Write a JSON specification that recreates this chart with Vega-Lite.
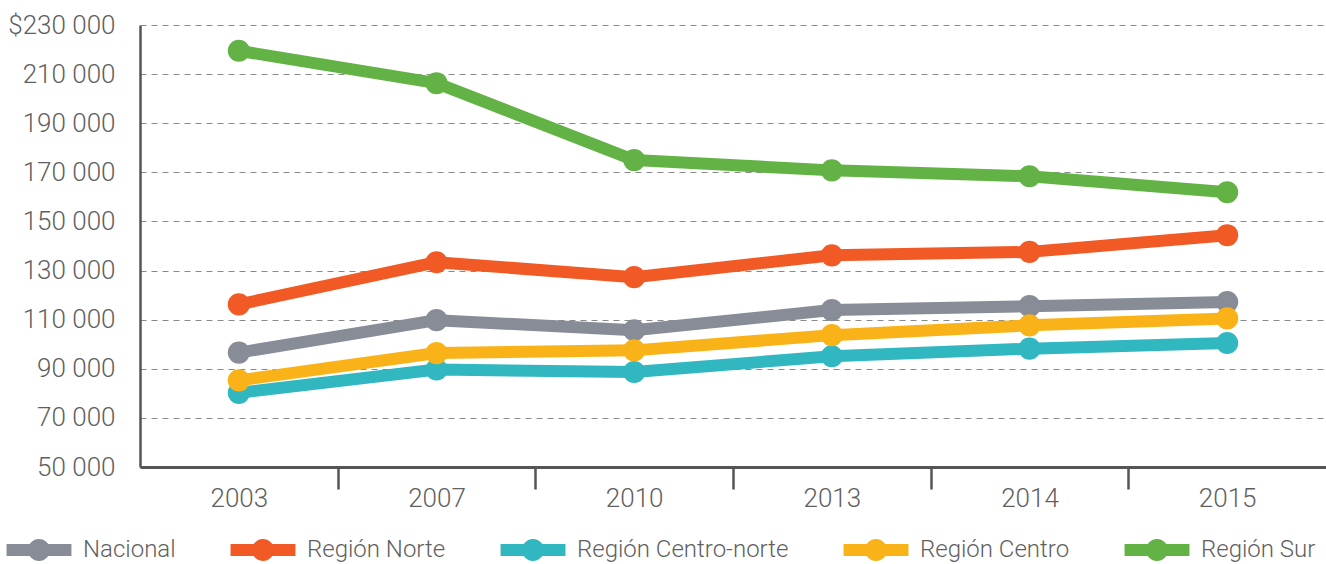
{
  "$schema": "https://vega.github.io/schema/vega-lite/v6.json",
  "autosize": {"type": "none"},
  "width": 1186,
  "height": 442,
  "padding": {"left": 140, "top": 25, "right": 0, "bottom": 97},
  "background": "white",
  "config": {
    "view": {"stroke": null},
    "font": "Roboto",
    "axis": {"labelFont": "Roboto", "labelFontWeight": 300, "labelColor": "#5f5f5f", "labelFontSize": 26},
    "legend": {"labelFont": "Roboto", "labelFontWeight": 300, "labelColor": "#5f5f5f", "labelFontSize": 24, "labelLimit": 0}
  },
  "data": {
    "values": [
      {"year": "2003", "region": "Región Sur", "value": 219500},
      {"year": "2007", "region": "Región Sur", "value": 206300},
      {"year": "2010", "region": "Región Sur", "value": 175000},
      {"year": "2013", "region": "Región Sur", "value": 170800},
      {"year": "2014", "region": "Región Sur", "value": 168400},
      {"year": "2015", "region": "Región Sur", "value": 161900},
      {"year": "2003", "region": "Región Norte", "value": 116200},
      {"year": "2007", "region": "Región Norte", "value": 133400},
      {"year": "2010", "region": "Región Norte", "value": 127300},
      {"year": "2013", "region": "Región Norte", "value": 136200},
      {"year": "2014", "region": "Región Norte", "value": 137600},
      {"year": "2015", "region": "Región Norte", "value": 144400},
      {"year": "2003", "region": "Nacional", "value": 96600},
      {"year": "2007", "region": "Nacional", "value": 109800},
      {"year": "2010", "region": "Nacional", "value": 105700},
      {"year": "2013", "region": "Nacional", "value": 113900},
      {"year": "2014", "region": "Nacional", "value": 115500},
      {"year": "2015", "region": "Nacional", "value": 117200},
      {"year": "2003", "region": "Región Centro-norte", "value": 80200},
      {"year": "2007", "region": "Región Centro-norte", "value": 89700},
      {"year": "2010", "region": "Región Centro-norte", "value": 88700},
      {"year": "2013", "region": "Región Centro-norte", "value": 95100},
      {"year": "2014", "region": "Región Centro-norte", "value": 98200},
      {"year": "2015", "region": "Región Centro-norte", "value": 100500},
      {"year": "2003", "region": "Región Centro", "value": 85300},
      {"year": "2007", "region": "Región Centro", "value": 96400},
      {"year": "2010", "region": "Región Centro", "value": 97500},
      {"year": "2013", "region": "Región Centro", "value": 103700},
      {"year": "2014", "region": "Región Centro", "value": 107700},
      {"year": "2015", "region": "Región Centro", "value": 110500}
    ]
  },
  "encoding": {
    "x": {
      "field": "year", "type": "ordinal",
      "scale": {"type": "band", "paddingInner": 0, "paddingOuter": 0},
      "axis": {
        "title": null, "labelAngle": 0, "tickBand": "extent", "tickSize": 22,
        "tickWidth": 2.5,
        "tickColor": {"condition": {"test": "datum.index > 0.8 || datum.extra", "value": "transparent"}, "value": "#555555"},
        "domainColor": "#555555", "domainWidth": 3,
        "labelPadding": -4, "grid": false
      }
    },
    "y": {
      "field": "value", "type": "quantitative",
      "scale": {"domain": [50000, 230000], "nice": false, "zero": false},
      "axis": {
        "title": null, "values": [50000, 70000, 90000, 110000, 130000, 150000, 170000, 190000, 210000, 230000],
        "labelExpr": "datum.value == 230000 ? '$230 000' : replace(format(datum.value, ','), ',', ' ')",
        "ticks": false, "labelPadding": 25, "domainColor": "#555555", "domainWidth": 2.5,
        "grid": true, "gridDash": [6, 5], "gridColor": "#8a8a8a", "gridWidth": 1.2
      }
    },
    "color": {
      "field": "region", "type": "nominal",
      "scale": {
        "domain": ["Nacional", "Región Norte", "Región Centro-norte", "Región Centro", "Región Sur"],
        "range": ["#878c96", "#f15a25", "#31b7bf", "#f9b218", "#63b246"]
      },
      "legend": {
        "title": null, "orient": "none", "direction": "horizontal",
        "legendX": -113, "legendY": 513, "padding": 0,
        "symbolType": "M-2.95,-0.55 L2.95,-0.55 L2.95,0.55 L-2.95,0.55 Z M-1,0 A1,1 0 1,1 1,0 A1,1 0 1,1 -1,0 Z",
        "symbolSize": 484, "symbolStrokeWidth": 0, "labelOffset": 32, "columnPadding": 54
      }
    }
  },
  "layer": [
    {"mark": {"type": "line", "strokeWidth": 12, "strokeJoin": "round"}},
    {"mark": {"type": "point", "filled": true, "size": 490, "opacity": 1, "shape": "circle"}}
  ]
}
